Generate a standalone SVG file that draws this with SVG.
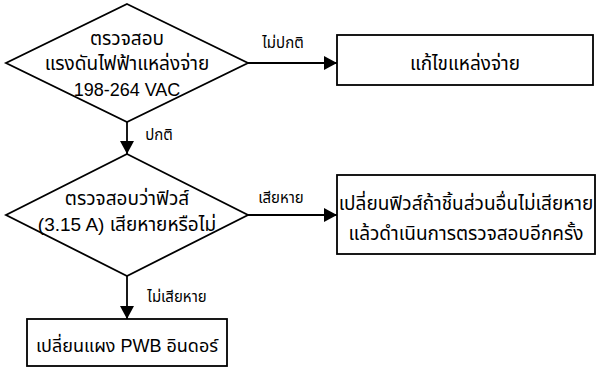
<svg xmlns="http://www.w3.org/2000/svg" width="598" height="370" viewBox="0 0 598 370">
<style>
.shape{fill:#fff;stroke:#000;stroke-width:1.8}
.t{font-family:"Liberation Sans","Noto Sans Thai","Noto Sans",sans-serif;font-size:19px;fill:#000;text-anchor:middle}
.lat{font-size:18px}
.lbl{font-family:"Liberation Sans","Noto Sans Thai","Noto Sans",sans-serif;font-size:15px;fill:#000;text-anchor:middle}
.edge{stroke:#000;stroke-width:1.8;fill:none}
</style>
<defs>
<marker id="arr" markerWidth="13" markerHeight="14" refX="13" refY="7" orient="auto" markerUnits="userSpaceOnUse">
<path d="M0,0 L13,7 L0,14 Z" fill="#000"/>
</marker>
</defs>
<rect width="598" height="370" fill="#fff"/>
<g id="connectors">
<line class="edge" x1="248" y1="63" x2="337" y2="63" marker-end="url(#arr)"/>
<line class="edge" x1="127" y1="122" x2="127" y2="154" marker-end="url(#arr)"/>
<line class="edge" x1="248" y1="215" x2="337" y2="215" marker-end="url(#arr)"/>
<line class="edge" x1="127" y1="275" x2="127" y2="319" marker-end="url(#arr)"/>
<text class="lbl" x="283" y="48">ไม่ปกติ</text>
<text class="lbl" x="159" y="140">ปกติ</text>
<text class="lbl" x="281" y="203">เสียหาย</text>
<text class="lbl" x="177" y="302">ไม่เสียหาย</text>
</g>
<g id="check-voltage">
<polygon class="shape" points="127,4 248,63 127,122 6,63"/>
<text class="t" x="127" y="45">ตรวจสอบ</text>
<text class="t" x="127" y="70">แรงดันไฟฟ้าแหล่งจ่าย</text>
<text class="t lat" x="127" y="96">198-264 VAC</text>
</g>
<g id="fix-supply">
<rect class="shape" x="337" y="35" width="256" height="50"/>
<text class="t" x="465" y="70">แก้ไขแหล่งจ่าย</text>
</g>
<g id="check-fuse">
<polygon class="shape" points="127,154 248,215 127,276 6,215"/>
<text class="t" x="127" y="205">ตรวจสอบว่าฟิวส์</text>
<text class="t" x="127" y="231">(3.15 A) เสียหายหรือไม่</text>
</g>
<g id="replace-fuse">
<rect class="shape" x="337" y="175" width="258" height="79"/>
<text class="t" x="466" y="210">เปลี่ยนฟิวส์ถ้าชิ้นส่วนอื่นไม่เสียหาย</text>
<text class="t" x="466" y="240">แล้วดำเนินการตรวจสอบอีกครั้ง</text>
</g>
<g id="replace-pwb">
<rect class="shape" x="27" y="319" width="200" height="47"/>
<text class="t lat" x="127" y="352">เปลี่ยนแผง PWB อินดอร์</text>
</g>
</svg>
